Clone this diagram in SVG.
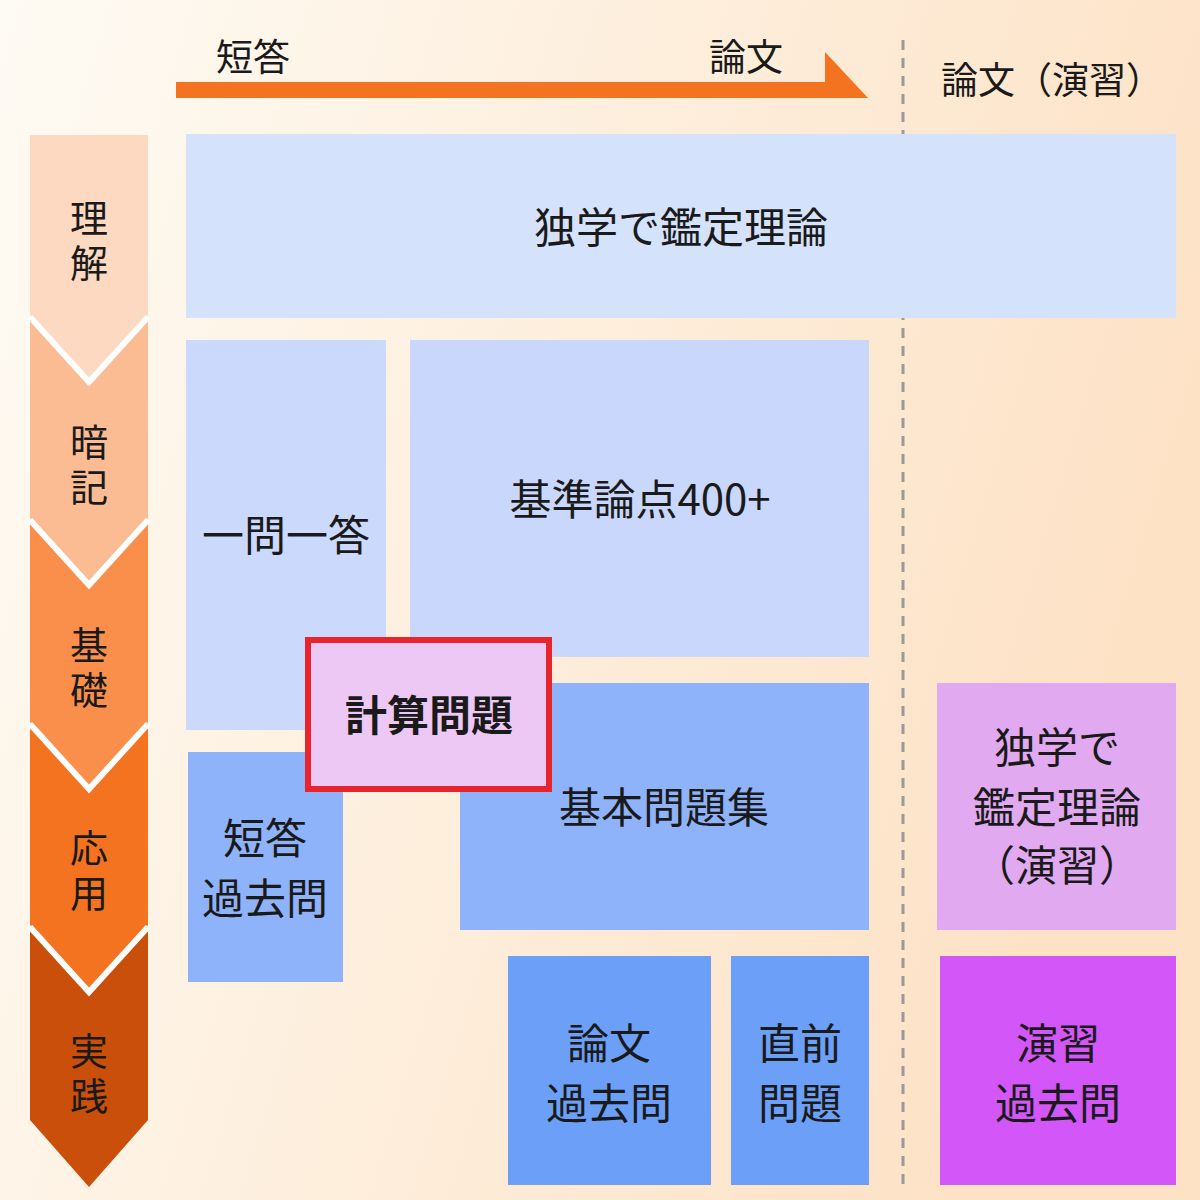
<svg xmlns="http://www.w3.org/2000/svg" width="1200" height="1200" viewBox="0 0 1200 1200">
<defs>
<linearGradient id="bg" x1="0" y1="0" x2="1" y2="0.3">
<stop offset="0" stop-color="#fefbf4"/><stop offset="1" stop-color="#fde2c6"/>
</linearGradient>
<style>
text{font-family:"Noto Sans CJK JP","Noto Sans",sans-serif;fill:#1a1a1a;text-anchor:middle}
.t{font-size:42px}
.v{font-size:38px}
.s{font-size:37px}
.c{fill:none;stroke:#fff;stroke-width:6}
</style>
</defs>
<rect width="1200" height="1200" fill="url(#bg)"/>
<g id="axis">
<polygon points="176,82 825,82 825,52 868,98 176,98" fill="#f47320"/>
<text class="s" x="253" y="71">短答</text>
<text class="s" x="746" y="71">論文</text>
<text class="s" x="1052" y="94">論文（演習）</text>
<line x1="903" y1="40" x2="903" y2="1190" stroke="#9a9a9a" stroke-width="3" stroke-dasharray="10,8"/>
</g>
<g id="stages">
<polygon points="30,135 148,135 148,315 89,380 30,315" fill="#fcd9c0"/>
<polygon points="30,318 89,383 148,318 148,518 89,583 30,518" fill="#fbbb93"/>
<polygon points="30,521 89,586 148,521 148,722 89,787 30,722" fill="#fa8f4c"/>
<polygon points="30,725 89,790 148,725 148,925 89,990 30,925" fill="#f47320"/>
<polygon points="30,928 89,993 148,928 148,1120 89,1187 30,1120" fill="#c94f0a"/>
<polyline class="c" points="30,317 89,382 148,317"/>
<polyline class="c" points="30,520 89,585 148,520"/>
<polyline class="c" points="30,724 89,789 148,724"/>
<polyline class="c" points="30,927 89,992 148,927"/>
<text class="v" x="89" y="232">理</text><text class="v" x="89" y="277">解</text>
<text class="v" x="89" y="456">暗</text><text class="v" x="89" y="501">記</text>
<text class="v" x="89" y="659">基</text><text class="v" x="89" y="704">礎</text>
<text class="v" x="89" y="862">応</text><text class="v" x="89" y="907">用</text>
<text class="v" x="89" y="1065">実</text><text class="v" x="89" y="1110">践</text>
</g>
<g id="n1"><rect x="186" y="134" width="990" height="184" fill="#d5e2fc"/><text class="t" x="681" y="243">独学で鑑定理論</text></g>
<g id="n2"><rect x="186" y="340" width="200" height="390" fill="#cbd9fc"/><text class="t" x="286" y="551">一問一答</text></g>
<g id="n3"><rect x="410" y="340" width="459" height="317" fill="#c9d7fc"/><text class="t" x="640" y="515">基準論点400+</text></g>
<g id="n4"><rect x="460" y="683" width="409" height="247" fill="#8fb3fa"/><text class="t" x="664" y="823">基本問題集</text></g>
<g id="n5"><rect x="188" y="752" width="155" height="230" fill="#8fb3fa"/><text class="t" x="265" y="854">短答</text><text class="t" x="265" y="914">過去問</text></g>
<g id="n6"><rect x="308" y="640" width="241" height="149" fill="#edc8f4" stroke="#e8242c" stroke-width="6"/><text class="t" x="429" y="731" font-weight="bold">計算問題</text></g>
<g id="n7"><rect x="508" y="956" width="203" height="229" fill="#6b9ff8"/><text class="t" x="609" y="1059">論文</text><text class="t" x="609" y="1119">過去問</text></g>
<g id="n8"><rect x="731" y="956" width="138" height="229" fill="#6b9ff8"/><text class="t" x="800" y="1059">直前</text><text class="t" x="800" y="1119">問題</text></g>
<g id="n9"><rect x="937" y="683" width="239" height="247" fill="#e0a9f0"/><text class="t" x="1057" y="763">独学で</text><text class="t" x="1057" y="823">鑑定理論</text><text class="t" x="1057" y="881">（演習）</text></g>
<g id="n10"><rect x="940" y="956" width="236" height="229" fill="#d356f8"/><text class="t" x="1058" y="1059">演習</text><text class="t" x="1058" y="1119">過去問</text></g>
<g id="connectors"/>
</svg>
